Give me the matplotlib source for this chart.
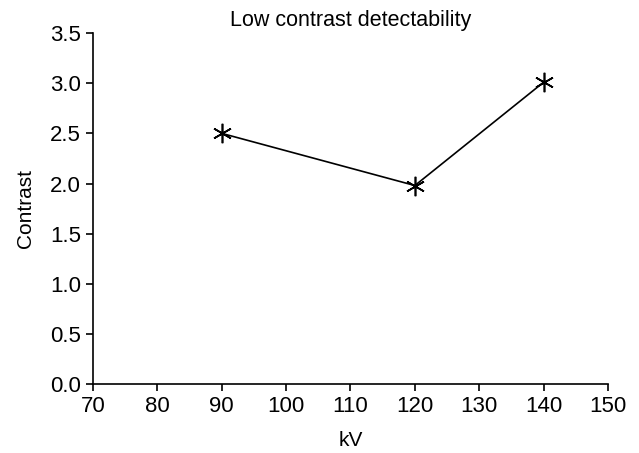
import matplotlib.pyplot as plt

kv = [90, 120, 140]
contrast = [2.5, 1.98, 3.01]
xticks = [70, 80, 90, 100, 110, 120, 130, 140, 150]
yticks = [0.0, 0.5, 1.0, 1.5, 2.0, 2.5, 3.0, 3.5]

plt.rcParams['font.family'] = ['Liberation Sans', 'DejaVu Sans']

fig = plt.figure(figsize=(6.39, 4.53), dpi=100)
ax = fig.add_axes([0.1455, 0.152, 0.806, 0.775])

ax.plot(kv, contrast, color='black', linewidth=1.2,
        marker=(6, 2, 0), markersize=14, markeredgewidth=1.2)

ax.set_xlim(70, 150)
ax.set_ylim(0, 3.5)
ax.set_xticks(xticks)
ax.set_yticks(yticks)
ax.set_yticklabels(['{:.1f}'.format(v) for v in yticks])
ax.spines['top'].set_visible(False)
ax.spines['right'].set_visible(False)
ax.tick_params(direction='out', length=5, width=1.2, labelsize=16)
for s in ('left', 'bottom'):
    ax.spines[s].set_linewidth(1.2)

ax.set_xlabel('kV', fontsize=15, labelpad=10)
ax.set_ylabel('Contrast', fontsize=15, labelpad=11)
ax.set_title('Low contrast detectability', fontsize=15.5, pad=5)

fig.savefig('out.png', dpi=100)
